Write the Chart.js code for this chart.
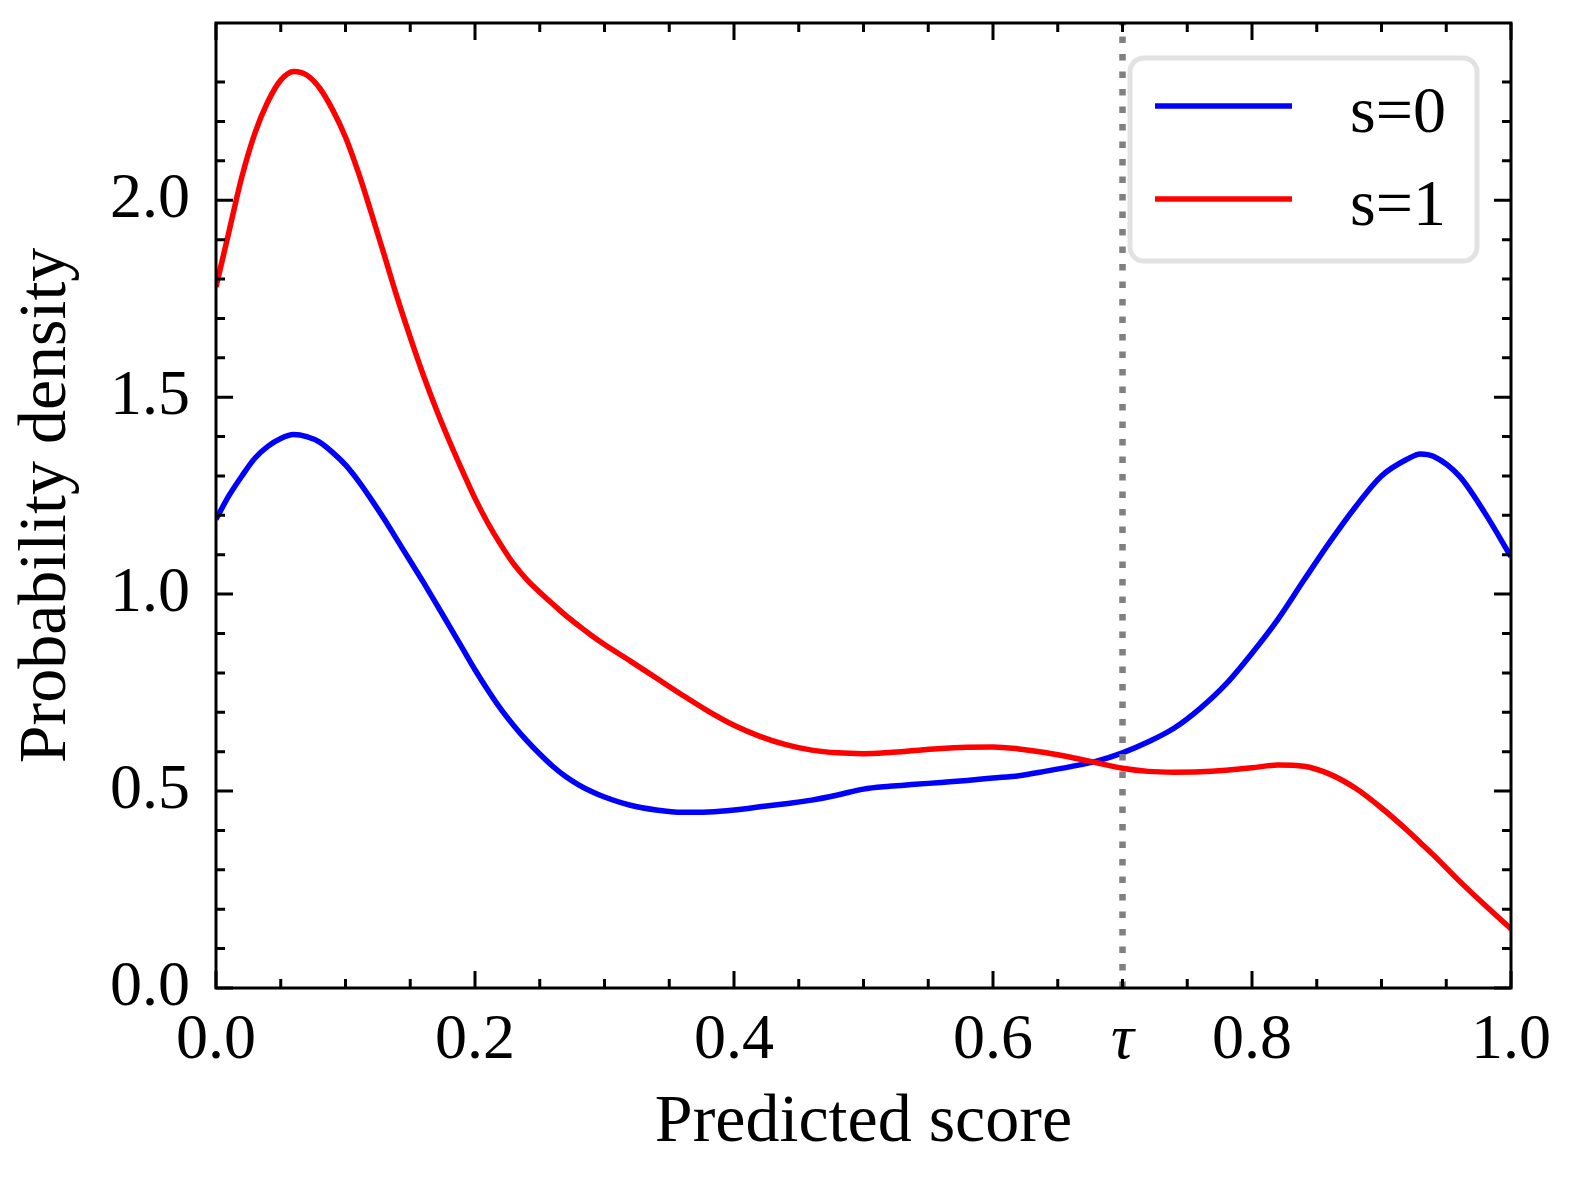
<!DOCTYPE html>
<html>
<head>
<meta charset="utf-8">
<script src="https://cdn.jsdelivr.net/npm/chart.js@4.4.1/dist/chart.umd.min.js"></script>
<style>
  html, body { margin: 0; padding: 0; background: #fff; }
  #wrap { width: 1577px; height: 1180px; }
</style>
</head>
<body>
<div id="wrap"><canvas id="densityChart" width="1577" height="1180"></canvas></div>
<script>
/* global Chart */

// predicted score grid (x) and the two density curves
var scores = [
  0.00, 0.01, 0.02, 0.03, 0.04, 0.05, 0.06, 0.07, 0.08, 0.09,
  0.10, 0.11, 0.12, 0.13, 0.14, 0.15, 0.16, 0.17, 0.18, 0.19,
  0.20, 0.21, 0.22, 0.23, 0.24, 0.25, 0.26, 0.27, 0.28, 0.29,
  0.30, 0.32, 0.34, 0.36, 0.38, 0.40, 0.42, 0.44, 0.46, 0.48,
  0.50, 0.52, 0.54, 0.56, 0.58, 0.60, 0.62, 0.64, 0.66, 0.68,
  0.70, 0.72, 0.74, 0.76, 0.78, 0.80, 0.82, 0.84, 0.86, 0.88,
  0.90, 0.92, 0.93, 0.94, 0.96, 0.98, 1.00
];
var densityS0 = [
  1.19, 1.25, 1.30, 1.345, 1.375, 1.395, 1.405, 1.40, 1.386, 1.36,
  1.328, 1.287, 1.24, 1.19, 1.137, 1.084, 1.031, 0.976, 0.92, 0.864,
  0.808, 0.756, 0.708, 0.666, 0.628, 0.594, 0.563, 0.537, 0.516, 0.499,
  0.485, 0.464, 0.452, 0.446, 0.447, 0.452, 0.46, 0.468, 0.477, 0.49,
  0.505, 0.512, 0.517, 0.522, 0.527, 0.533, 0.539, 0.55, 0.562, 0.576,
  0.597, 0.625, 0.66, 0.71, 0.772, 0.85, 0.936, 1.035, 1.132, 1.222,
  1.30, 1.343, 1.356, 1.35, 1.30, 1.205, 1.095
];
var densityS1 = [
  1.78, 1.92, 2.06, 2.17, 2.25, 2.305, 2.327, 2.318, 2.285, 2.23,
  2.16, 2.07, 1.967, 1.86, 1.752, 1.652, 1.557, 1.47, 1.39, 1.315,
  1.243, 1.18, 1.125, 1.076, 1.037, 1.005, 0.975, 0.946, 0.92, 0.895,
  0.872, 0.83, 0.787, 0.744, 0.703, 0.667, 0.639, 0.618, 0.604, 0.597,
  0.595, 0.598, 0.603, 0.608, 0.611, 0.612, 0.607, 0.598, 0.586, 0.572,
  0.558, 0.55, 0.548, 0.549, 0.553, 0.559, 0.566, 0.563, 0.543, 0.507,
  0.457, 0.40, 0.369, 0.338, 0.272, 0.21, 0.15
];
var seriesLabels = ["s=0", "s=1"];
var tau = 0.7;
var yMax = 2.45;

var serif = "'Liberation Serif', 'DejaVu Serif', serif";
Chart.defaults.font.family = serif;
Chart.defaults.color = "#000";

function toPoints(xs, ys) {
  return xs.map(function (x, i) {
    return { x: x, y: ys[i] };
  });
}

function nearly(a, b) {
  return Math.abs(a - b) < 1e-6;
}

// matplotlib style frame with inward ticks on all four sides
var insideTicks = {
  id: "insideTicks",
  afterDraw: function (chart) {
    var ctx = chart.ctx;
    var area = chart.chartArea;
    var xs = chart.scales.x;
    var ys = chart.scales.y;
    ctx.save();
    ctx.strokeStyle = "#000";
    ctx.lineWidth = 3;
    ctx.beginPath();
    xs.ticks.forEach(function (t) {
      var r = Math.round(t.value / 0.05);
      if (!nearly(t.value, r * 0.05)) return;
      var len = r % 4 === 0 ? 17 : 9;
      var px = xs.getPixelForValue(t.value);
      ctx.moveTo(px, area.bottom);
      ctx.lineTo(px, area.bottom - len);
      ctx.moveTo(px, area.top);
      ctx.lineTo(px, area.top + len);
    });
    ys.ticks.forEach(function (t) {
      var r = Math.round(t.value / 0.1);
      if (!nearly(t.value, r * 0.1)) return;
      var len = r % 5 === 0 ? 17 : 9;
      var py = ys.getPixelForValue(t.value);
      ctx.moveTo(area.left, py);
      ctx.lineTo(area.left + len, py);
      ctx.moveTo(area.right, py);
      ctx.lineTo(area.right - len, py);
    });
    ctx.stroke();
    ctx.strokeRect(area.left, area.top, area.right - area.left, area.bottom - area.top);
    ctx.restore();
  }
};

// rounded legend box in the upper right corner
var boxLegend = {
  id: "boxLegend",
  afterDraw: function (chart) {
    var ctx = chart.ctx;
    var area = chart.chartArea;
    var left = area.right - 381;
    var top = area.top + 35;
    var w = 347;
    var h = 203;
    ctx.save();
    ctx.beginPath();
    ctx.roundRect(left, top, w, h, 14);
    ctx.fillStyle = "rgba(255,255,255,0.8)";
    ctx.fill();
    ctx.lineWidth = 5;
    ctx.strokeStyle = "#e2e2e2";
    ctx.stroke();
    seriesLabels.forEach(function (label, i) {
      var ds = chart.data.datasets.find(function (d) {
        return d.label === label;
      });
      var y = top + 48 + i * 93;
      ctx.beginPath();
      ctx.moveTo(left + 25, y);
      ctx.lineTo(left + 162, y);
      ctx.lineWidth = ds.borderWidth;
      ctx.strokeStyle = ds.borderColor;
      ctx.stroke();
      ctx.fillStyle = "#000";
      ctx.font = "66px " + serif;
      ctx.textAlign = "center";
      ctx.textBaseline = "alphabetic";
      ctx.fillText(label, left + 268, y + 26);
    });
    ctx.restore();
  }
};

var chart = new Chart(document.getElementById("densityChart"), {
  type: "line",
  data: {
    datasets: [
      {
        label: seriesLabels[0],
        data: toPoints(scores, densityS0),
        borderColor: "#0000ff",
        borderWidth: 5.5,
        pointRadius: 0,
        cubicInterpolationMode: "monotone",
        order: 2,
      },
      {
        label: seriesLabels[1],
        data: toPoints(scores, densityS1),
        borderColor: "#ff0000",
        borderWidth: 5.5,
        pointRadius: 0,
        cubicInterpolationMode: "monotone",
        order: 1,
      },
      {
        label: "tau",
        data: [{ x: tau, y: 0 }, { x: tau, y: yMax }],
        borderColor: "#808080",
        borderWidth: 6.5,
        borderDash: [6.5, 11],
        borderCapStyle: "butt",
        pointRadius: 0,
        order: 0,
      },
    ],
  },
  options: {
    responsive: false,
    animation: false,
    layout: {
      padding: { top: 23, right: 66, left: 0, bottom: 0 },
    },
    plugins: {
      legend: { display: false },
      tooltip: { enabled: false },
    },
    scales: {
      x: {
        type: "linear",
        min: 0,
        max: 1,
        grid: { display: false },
        border: { display: false },
        ticks: {
          stepSize: 0.05,
          maxTicksLimit: 100,
          autoSkip: false,
          maxRotation: 0,
          padding: 7,
          color: "#000",
          font: function (c) {
            var italic = c.tick && nearly(c.tick.value, tau);
            return { family: serif, size: 64, style: italic ? "italic" : "normal" };
          },
          callback: function (v) {
            if (nearly(v, tau)) return "τ";
            var r = Math.round(v / 0.05);
            return r % 4 === 0 && nearly(v, r * 0.05) ? v.toFixed(1) : "";
          },
        },
        title: {
          display: true,
          text: "Predicted score",
          color: "#000",
          font: { family: serif, size: 68, lineHeight: 1.2 },
          padding: { top: 0, bottom: 16 },
        },
        afterFit: function (s) {
          s.height = 192;
          s.paddingLeft = 0;
          s.paddingRight = 0;
        },
      },
      y: {
        type: "linear",
        min: 0,
        max: yMax,
        grid: { display: false },
        border: { display: false },
        ticks: {
          stepSize: 0.1,
          maxTicksLimit: 100,
          autoSkip: false,
          padding: 18,
          color: "#000",
          font: { family: serif, size: 64 },
          callback: function (v) {
            var r = Math.round(v / 0.1);
            return r % 5 === 0 && nearly(v, r * 0.1) ? v.toFixed(1) : "";
          },
        },
        title: {
          display: true,
          text: "Probability density",
          color: "#000",
          font: { family: serif, size: 68, lineHeight: 1.2 },
          padding: { top: 6, bottom: 0 },
        },
        afterFit: function (s) {
          s.width = 216;
          s.paddingTop = 0;
          s.paddingBottom = 0;
        },
      },
    },
  },
  plugins: [insideTicks, boxLegend],
});
</script>
</body>
</html>
